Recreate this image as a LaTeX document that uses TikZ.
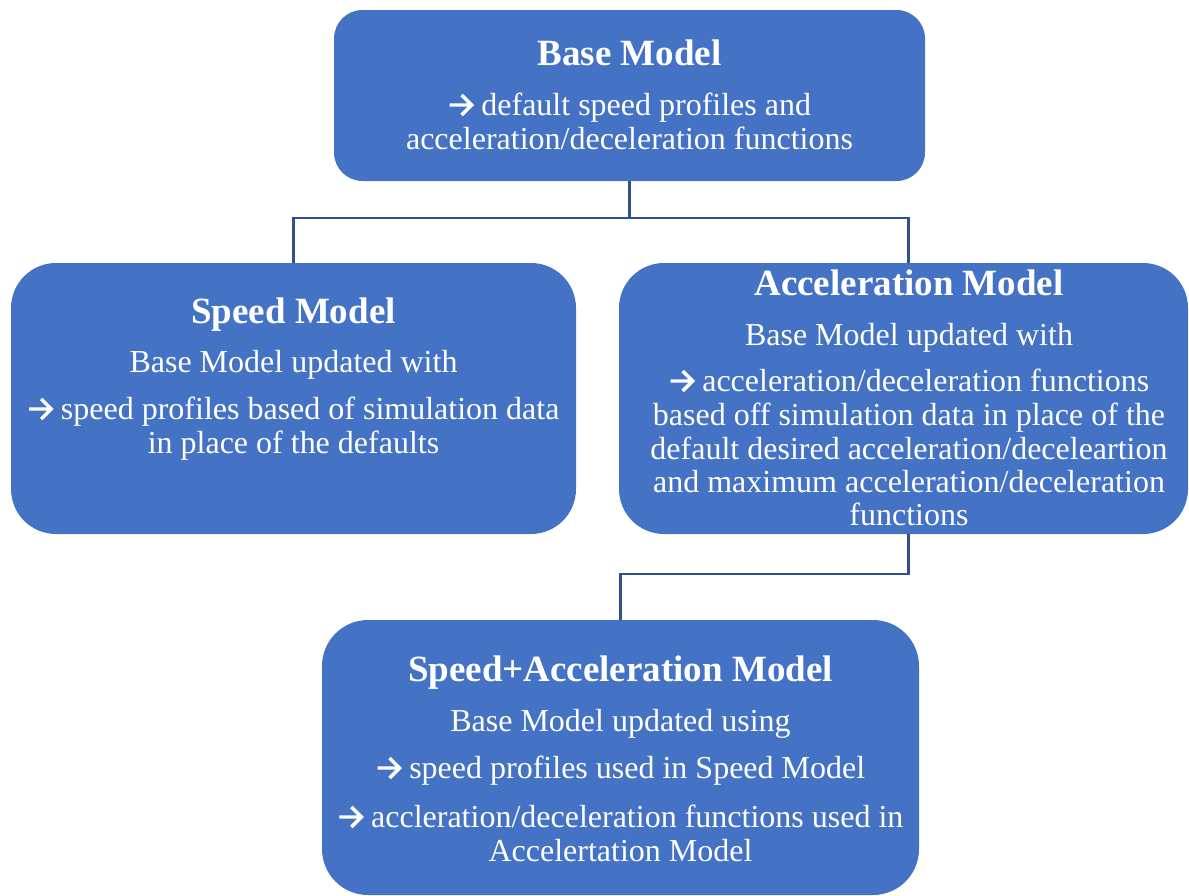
\documentclass[tikz,border=0pt]{standalone}
\usepackage{fontspec}
\setmainfont{Liberation Serif}
\definecolor{boxblue}{HTML}{4472C4}
\definecolor{linkblue}{HTML}{2F528F}
% open-headed right arrow used as a bullet
\newcommand{\arr}{\tikz[baseline=0pt]\draw[white,line width=2.6pt,line join=miter,line cap=butt]
  (0pt,7.5pt) -- (16.5pt,7.5pt) (9pt,0pt) -- (16.5pt,7.5pt) -- (9pt,15pt);}
\begin{document}
\begin{tikzpicture}[x=0.75pt,y=-0.75pt,
  box/.style={fill=boxblue,draw=none,inner sep=0pt,rectangle},
  title/.style={text=white,inner sep=0pt,anchor=base,font=\fontsize{27.75}{30}\selectfont\bfseries},
  body/.style={text=white,inner sep=0pt,anchor=base,font=\fontsize{24}{25.5}\selectfont},
  link/.style={draw=linkblue,line width=1.6pt}]
\useasboundingbox (0,0) rectangle (1189,896);

% boxes
\node[box,minimum width=443.25pt,minimum height=128.25pt,rounded corners=21.4pt] (base) at (629.5,95.5) {};
\node[box,minimum width=423.75pt,minimum height=203.25pt,rounded corners=33.75pt] (speed) at (293.5,398.5) {};
\node[box,minimum width=426.75pt,minimum height=203.25pt,rounded corners=33.75pt] (accel) at (903.5,398.5) {};
\node[box,minimum width=447.75pt,minimum height=206.25pt,rounded corners=34.5pt] (sa) at (620.5,757.5) {};

% connectors
\coordinate (j1) at (629.5,218);
\coordinate (j2) at (620.5,574);
\draw[link] (base.south) -- (j1) -| (speed.north);
\draw[link] (j1) -| ([xshift=3.75pt]accel.north);
\draw[link] ([xshift=3.75pt]accel.south) |- (j2) -- (sa.north);

% base model
\node[title] (t1) at (629.5,65) {Base Model};
\node[body] (b11) at (629.5,115) {\arr\ default speed profiles and};
\node[body] (b12) at (629.5,149) {acceleration/deceleration functions};

% speed model
\node[title] (t2) at (293.5,323) {Speed Model};
\node[body] (b21) at (293.5,372) {Base Model updated with};
\node[body] (b22) at (293.5,419) {\arr\ speed profiles based of simulation data};
\node[body] (b23) at (293.5,453) {in place of the defaults};

% acceleration model
\node[title] (t3) at (909,295) {Acceleration Model};
\node[body] (b31) at (909,345) {Base Model updated with};
\node[body] (b32) at (909,391) {\arr\ acceleration/deceleration functions};
\node[body] (b33) at (909,425) {based off simulation data in place of the};
\node[body] (b34) at (909,459) {default desired acceleration/deceleartion};
\node[body] (b35) at (909,492) {and maximum acceleration/deceleration};
\node[body] (b36) at (909,525) {functions};

% speed + acceleration model
\node[title] (t4) at (620.5,681) {Speed+Acceleration Model};
\node[body] (b41) at (620.5,731) {Base Model updated using};
\node[body] (b42) at (620.5,778) {\arr\ speed profiles used in Speed Model};
\node[body] (b43) at (620.5,827) {\arr\ accleration/deceleration functions used in};
\node[body] (b44) at (620.5,861) {Accelertation Model};
\end{tikzpicture}
\end{document}
